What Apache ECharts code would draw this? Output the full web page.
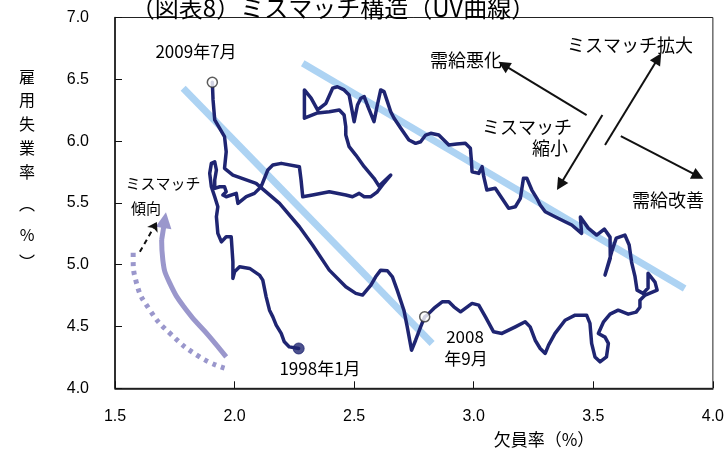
<!DOCTYPE html>
<html>
<head>
<meta charset="utf-8">
<script src="https://cdn.jsdelivr.net/npm/echarts@6/dist/echarts.min.js"></script>
<style>html,body{margin:0;padding:0;background:#fff}#c{width:727px;height:450px}</style>
</head>
<body>
<div id="c"></div>
<script>
// 欠員率 (%) — x
const vacancyRate = [
2.268,2.229,2.208,2.195,2.174,2.160,2.146,2.132,2.118,2.104,
2.063,2.021,2.000,1.993,1.993,1.986,1.965,1.945,1.930,1.924,
1.930,1.917,1.903,1.896,1.903,1.917,1.924,1.917,1.917,1.938,
1.958,1.965,1.951,1.965,2.007,2.014,2.049,2.083,2.111,2.139,
2.160,2.195,2.271,2.278,2.285,2.326,2.396,2.465,2.493,2.521,
2.542,2.570,2.597,2.625,2.653,2.604,2.583,2.542,2.507,2.479,
2.465,2.465,2.458,2.438,2.396,2.347,2.292,2.292,2.320,2.347,
2.382,2.410,2.430,2.458,2.479,2.500,2.514,2.528,2.542,2.555,
2.583,2.597,2.611,2.625,2.639,2.653,2.667,2.695,2.729,2.757,
2.778,2.799,2.820,2.854,2.896,2.929,2.965,2.986,2.990,2.993,
3.021,3.035,3.042,3.055,3.090,3.118,3.146,3.174,3.195,3.208,
3.222,3.243,3.264,3.278,3.299,3.340,3.382,3.410,3.451,3.446,
3.479,3.514,3.546,3.570,3.571,3.549,3.579,3.596,3.632,3.650,
3.660,3.674,3.683,3.708,3.729,3.729,3.758,3.767,3.717,3.695,
3.695,3.679,3.646,3.604,3.570,3.542,3.521,3.549,3.563,3.555,
3.528,3.507,3.493,3.486,3.472,3.424,3.382,3.340,3.313,3.299,
3.278,3.257,3.236,3.215,3.174,3.118,3.083,3.049,3.021,2.993,
2.945,2.917,2.896,2.868,2.833,2.805,2.795,2.778,2.757,2.740,
2.722,2.708,2.680,2.660,2.639,2.611,2.590,2.570,2.535,2.507,
2.465,2.396,2.326,2.271,2.188,2.090,1.993,1.958,1.965,1.958,
1.917,1.910,1.907
];
// 雇用失業率 (%) — y
const unemploymentRate = [
4.322,4.335,4.376,4.444,4.511,4.578,4.632,4.740,4.875,4.916,
4.970,4.983,4.943,4.889,5.023,5.226,5.226,5.185,5.253,5.388,
5.469,5.550,5.631,5.739,5.820,5.833,5.766,5.685,5.618,5.631,
5.631,5.590,5.564,5.550,5.577,5.496,5.550,5.577,5.631,5.766,
5.806,5.820,5.793,5.685,5.550,5.564,5.590,5.564,5.550,5.577,
5.550,5.550,5.590,5.661,5.725,5.636,5.699,5.793,5.887,5.955,
6.049,6.117,6.211,6.252,6.238,6.228,6.185,6.414,6.347,6.252,
6.306,6.428,6.440,6.414,6.373,6.157,6.292,6.347,6.360,6.292,
6.157,6.292,6.414,6.400,6.319,6.238,6.185,6.104,6.009,5.982,
5.995,6.049,6.063,6.049,5.968,5.976,5.982,5.942,5.847,5.752,
5.739,5.793,5.712,5.604,5.618,5.537,5.456,5.469,5.537,5.699,
5.699,5.604,5.537,5.483,5.428,5.388,5.347,5.321,5.253,5.385,
5.296,5.240,5.288,5.223,5.053,4.916,5.118,5.215,5.240,5.159,
5.021,4.908,4.794,4.768,4.811,4.930,4.859,4.794,4.754,4.713,
4.656,4.616,4.600,4.632,4.600,4.535,4.444,4.414,4.363,4.254,
4.214,4.254,4.363,4.525,4.592,4.592,4.551,4.444,4.349,4.282,
4.322,4.389,4.497,4.538,4.497,4.444,4.457,4.578,4.673,4.687,
4.619,4.659,4.700,4.700,4.646,4.592,4.578,4.497,4.389,4.308,
4.497,4.632,4.794,4.902,4.951,4.956,4.902,4.835,4.754,4.768,
4.821,4.956,5.159,5.307,5.496,5.658,5.725,5.780,5.914,6.036,
6.171,6.333,6.476
];
const markerLabels = ['1998年1月', '2008年9月', '2009年7月'];
const markerIndex = [0, 176, 202];

const mismatchBandA = [[1.785, 6.428], [2.826, 4.363]];
const mismatchBandB = [[2.285, 6.63], [3.882, 4.808]];
const arrowSupplyWorse = [[3.472, 6.211], [3.125, 6.616]];
const arrowMismatchUp = [[3.549, 5.968], [3.771, 6.670]];
const arrowMismatchDown = [[3.538, 6.211], [3.361, 5.645]];
const arrowSupplyBetter = [[3.615, 6.041], [3.938, 5.717]];
const trendSolid = [[1.965,4.254],[1.896,4.416],[1.799,4.632],[1.729,4.851],[1.700,5.037],[1.695,5.199]];
const trendSolidHead = [[1.695,5.199],[1.708,5.361]];
const trendDotted = [[1.958,4.163],[1.854,4.254],[1.729,4.446],[1.646,4.632],[1.590,4.851],[1.576,5.064],[1.576,5.134]];
const trendDashedArrow = [[1.604, 5.104], [1.675, 5.345]];

const NAVY = '#1f2572';
const CJK = '"Noto Sans CJK JP", sans-serif';
const chart = echarts.init(document.getElementById('c'), null, {renderer: 'canvas'});
const curve = vacancyRate.map((v, i) => [v, unemploymentRate[i]]);

function arrow(coords, color, width, type, symSize, sym) {
  return {
    type: 'lines', coordinateSystem: 'cartesian2d', z: 4, silent: true,
    symbol: ['none', sym || 'triangle'], symbolSize: symSize,
    lineStyle: {color: color, width: width, type: type || 'solid', opacity: 1, curveness: 0},
    data: [{coords: coords}]
  };
}
function txt(text, x, y, size, align) {
  return {type: 'text', x: x, y: y, z: 20, style: {text: text, fill: '#000', font: size + 'px ' + CJK, textAlign: align || 'center', textVerticalAlign: 'middle'}};
}

chart.setOption({
  animation: false,
  grid: {left: 115, right: 12, top: 17.5, bottom: 61.7, show: true, borderColor: '#222', borderWidth: 1},
  xAxis: {
    type: 'value', min: 1.5, max: 4.0, interval: 0.5,
    axisLine: {show: true, onZero: false, lineStyle: {color: '#111', width: 1.5}},
    axisTick: {show: true, inside: true, length: 7, lineStyle: {color: '#111'}},
    axisLabel: {margin: 20, fontSize: 16, color: '#000', fontFamily: 'Liberation Sans', formatter: v => v.toFixed(1)},
    splitLine: {show: false}
  },
  yAxis: {
    type: 'value', min: 4.0, max: 7.0, interval: 0.5,
    axisLine: {show: true, onZero: false, lineStyle: {color: '#111', width: 1.5}},
    axisTick: {show: true, inside: true, length: 7, lineStyle: {color: '#111'}},
    axisLabel: {margin: 26, fontSize: 16, color: '#000', fontFamily: 'Liberation Sans', formatter: v => v.toFixed(1)},
    splitLine: {show: false}
  },
  series: [
    {type: 'line', data: mismatchBandA, symbol: 'none', z: 1, lineStyle: {color: '#add3f3', width: 7}, silent: true},
    {type: 'line', data: mismatchBandB, symbol: 'none', z: 1, lineStyle: {color: '#add3f3', width: 7}, silent: true},
    {type: 'line', data: curve, symbol: 'none', z: 3, lineStyle: {color: NAVY, width: 3.5, join: 'round', cap: 'round'}, silent: true},
    {type: 'line', data: trendSolid, symbol: 'none', smooth: true, z: 2, lineStyle: {color: '#9a97cc', width: 5}, silent: true},
    arrow(trendSolidHead, '#9a97cc', 5, 'solid', [14, 16]),
    {type: 'line', data: trendDotted, symbol: 'none', smooth: true, z: 2, lineStyle: {color: '#9a97cc', width: 5, type: [4, 5]}, silent: true},
    arrow(trendDashedArrow, '#111', 2, [5, 4], [9, 9], 'arrow'),
    arrow(arrowSupplyWorse, '#111', 2, 'solid', [9, 12]),
    arrow(arrowMismatchUp, '#111', 2, 'solid', [9, 12]),
    arrow(arrowMismatchDown, '#111', 2, 'solid', [9, 12]),
    arrow(arrowSupplyBetter, '#111', 2, 'solid', [9, 12]),
    {type: 'scatter', z: 6, silent: true, symbol: 'circle',
     data: markerIndex.map((k, j) => ({
       name: markerLabels[j], value: curve[k],
       symbolSize: j === 0 ? 11 : 10,
       itemStyle: j === 0 ? {color: NAVY, borderColor: NAVY, borderWidth: 1} : {color: '#fff', borderColor: '#333', borderWidth: 1.5}
     }))}
  ],
  graphic: [
    txt('（図表8）ミスマッチ構造（UV曲線）', 333, 8, 24),
    txt('2009年7月', 196, 52, 17),
    txt('1998年1月', 320, 369, 17),
    txt('2008', 465, 337, 17),
    txt('年9月', 466, 359, 17),
    txt('需給悪化', 466, 60, 18),
    txt('ミスマッチ拡大', 630, 45, 18),
    txt('ミスマッチ', 527, 127, 18),
    txt('縮小', 550, 148, 18),
    txt('需給改善', 668, 200, 18),
    txt('ミスマッチ', 163, 183, 15),
    txt('傾向', 146, 208, 15),
    txt('欠員率（%）', 544, 440, 17),
    txt('雇', 27, 77, 16), txt('用', 27, 100, 16), txt('失', 27, 124, 16),
    txt('業', 27, 148, 16), txt('率', 27, 172, 16),
    txt('︵', 27, 204, 16), txt('%', 27, 235, 16), txt('︶', 27, 262, 16)
  ]
});
</script>
</body>
</html>
